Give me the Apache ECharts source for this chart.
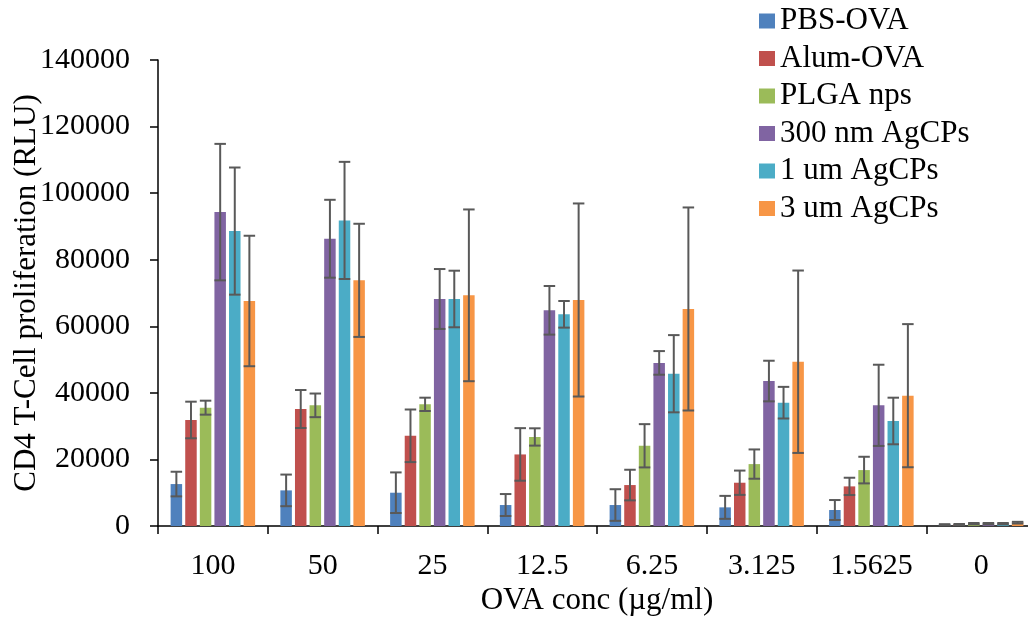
<!DOCTYPE html>
<html>
<head>
<meta charset="utf-8">
<script src="https://cdn.jsdelivr.net/npm/echarts@6/dist/echarts.min.js"></script>
<style>html,body{margin:0;padding:0;background:#fff;}#c{width:1028px;height:620px;}</style>
</head>
<body>
<div id="c"></div>
<script>
var categories = ['100', '50', '25', '12.5', '6.25', '3.125', '1.5625', '0'];
var seriesNames = ['PBS-OVA', 'Alum-OVA', 'PLGA nps', '300 nm AgCPs', '1 um AgCPs', '3 um AgCPs'];
var pbs      = [12600, 10700, 10000, 6300, 6300, 5600, 4800, 400];
var pbsErr   = [3700, 4750, 6100, 3300, 4750, 3450, 3000, 150];
var alum     = [31850, 35150, 27100, 21500, 12300, 13000, 11900, 450];
var alumErr  = [5500, 5700, 7900, 7900, 4600, 3650, 2600, 150];
var plga     = [35550, 36250, 36550, 26750, 24100, 18600, 16800, 700];
var plgaErr  = [2100, 3550, 2000, 2600, 6500, 4400, 4000, 200];
var ag300    = [94300, 86300, 68200, 64800, 49000, 43550, 36250, 700];
var ag300Err = [20500, 11700, 9000, 7300, 3550, 6100, 12200, 200];
var ag1      = [88600, 91800, 68200, 63600, 45750, 37050, 31550, 700];
var ag1Err   = [19100, 17600, 8500, 4000, 11600, 4750, 7000, 200];
var ag3      = [67600, 73800, 69300, 67900, 65200, 49350, 39150, 1000];
var ag3Err   = [19600, 17000, 25800, 29000, 30500, 27400, 21500, 250];
var yTicks = { min: 0, max: 140000, interval: 20000 };

var colors = ['#4F81BD', '#C0504D', '#9BBB59', '#8064A2', '#4BACC6', '#F79646'];
var values = [pbs, alum, plga, ag300, ag1, ag3];
var errs = [pbsErr, alumErr, plgaErr, ag300Err, ag1Err, ag3Err];
var CAT_GAP = 0.23, BAR_GAP = 0.27, N = values.length;
var FONT = 'Liberation Serif';

var series = [];
values.forEach(function (v, i) {
  series.push({
    name: seriesNames[i], type: 'bar', data: v,
    barCategoryGap: (CAT_GAP * 100) + '%', barGap: (BAR_GAP * 100) + '%',
    itemStyle: { color: colors[i] }, emphasis: { disabled: true }
  });
});
var errData = [];
values.forEach(function (v, i) {
  v.forEach(function (val, c) { errData.push([c, i, val, errs[i][c]]); });
});
series.push({
  type: 'custom', data: errData, z: 10, silent: true,
  renderItem: function (params, api) {
    var c = api.value(0), i = api.value(1), val = api.value(2), e = api.value(3);
    var band = api.size([1, 0])[0];
    var groupW = band * (1 - CAT_GAP);
    var w = groupW / (N + (N - 1) * BAR_GAP);
    var center = api.coord([c, 0])[0];
    var x = center - groupW / 2 + i * w * (1 + BAR_GAP) + w / 2;
    var yt = api.coord([c, val + e])[1];
    var yb = api.coord([c, Math.max(val - e, 0)])[1];
    var hw = w / 2;
    var st = { stroke: '#595959', lineWidth: 2 };
    return { type: 'group', children: [
      { type: 'line', shape: { x1: x, y1: yt, x2: x, y2: yb }, style: st },
      { type: 'line', shape: { x1: x - hw, y1: yt, x2: x + hw, y2: yt }, style: st },
      { type: 'line', shape: { x1: x - hw, y1: yb, x2: x + hw, y2: yb }, style: st }
    ]};
  }
});

var chart = echarts.init(document.getElementById('c'), null, { renderer: 'canvas' });
chart.setOption({
  animation: false,
  textStyle: { fontFamily: FONT },
  legend: {
    data: seriesNames, orient: 'vertical', left: 754, top: 0,
    itemWidth: 16, itemHeight: 15, itemGap: 5.5,
    icon: 'rect',
    textStyle: { fontFamily: FONT, fontSize: 31, color: '#000', lineHeight: 32, padding: [0, 0, 0, 0] }
  },
  grid: { left: 158, right: -8, top: 60, bottom: 94, containLabel: false, outerBoundsMode: 'none' },
  xAxis: {
    type: 'category', data: categories,
    name: 'OVA conc (\u00b5g/ml)', nameLocation: 'middle', nameGap: 59,
    nameMoveOverlap: false,
    nameTextStyle: { fontFamily: FONT, fontSize: 31, color: '#000' },
    axisLine: { lineStyle: { color: '#000', width: 1.5 } },
    axisTick: { show: true, inside: false, length: 8, lineStyle: { color: '#000', width: 1.5 } },
    axisLabel: { fontFamily: FONT, fontSize: 30, color: '#000', margin: 25 },
    splitLine: { show: false }
  },
  yAxis: {
    type: 'value', min: yTicks.min, max: yTicks.max, interval: yTicks.interval,
    name: 'CD4 T-Cell proliferation (RLU)', nameLocation: 'middle', nameGap: 116,
    nameMoveOverlap: false,
    nameTextStyle: { fontFamily: FONT, fontSize: 31, color: '#000' },
    axisLine: { show: true, lineStyle: { color: '#000', width: 1.5 } },
    axisTick: { show: true, inside: false, length: 8, lineStyle: { color: '#000', width: 1.5 } },
    axisLabel: { fontFamily: FONT, fontSize: 30, color: '#000', margin: 28, formatter: function (v) { return String(v); } },
    splitLine: { show: false }
  },
  series: series
});
</script>
</body>
</html>
